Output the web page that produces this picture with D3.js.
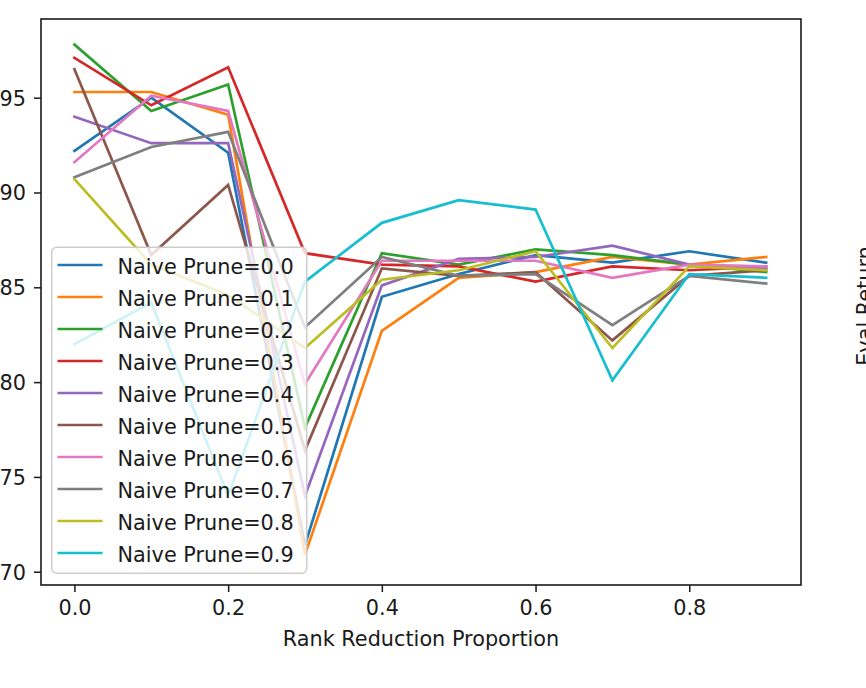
<!DOCTYPE html>
<html>
<head>
<meta charset="utf-8">
<script src="https://cdn.jsdelivr.net/npm/d3@7"></script>
<style>
  html, body { margin: 0; padding: 0; background: #fff; }
  svg { display: block; }
  text { font-family: "DejaVu Sans", sans-serif; fill: #1a1a1a; }
</style>
</head>
<body>
<svg id="chart" width="866" height="688"></svg>
<script>
// Rank reduction proportions on the x axis
const rankReduction = [0.0, 0.1, 0.2, 0.3, 0.4, 0.5, 0.6, 0.7, 0.8, 0.9];

// Naive prune levels (one line each)
const pruneLevels = ["0.0", "0.1", "0.2", "0.3", "0.4", "0.5", "0.6", "0.7", "0.8", "0.9"];

// Eval return per prune level, indexed by rank reduction
const prune00 = [92.2, 95.0, 92.1, 71.4, 84.5, 85.7, 86.7, 86.3, 86.9, 86.3];
const prune01 = [95.3, 95.3, 94.1, 70.9, 82.7, 85.5, 85.8, 86.6, 86.2, 86.6];
const prune02 = [97.8, 94.3, 95.7, 77.6, 86.8, 86.2, 87.0, 86.7, 86.2, 85.8];
const prune03 = [97.1, 94.6, 96.6, 86.8, 86.2, 86.1, 85.3, 86.1, 85.9, 86.1];
const prune04 = [94.0, 92.6, 92.6, 74.0, 85.1, 86.5, 86.6, 87.2, 86.2, 86.0];
const prune05 = [96.5, 86.7, 90.4, 76.4, 86.0, 85.6, 85.8, 82.2, 85.6, 85.9];
const prune06 = [91.6, 95.1, 94.3, 79.9, 86.4, 86.4, 86.4, 85.5, 86.2, 86.1];
const prune07 = [90.8, 92.4, 93.2, 82.9, 86.6, 85.6, 85.7, 83.0, 85.6, 85.2];
const prune08 = [90.7, 86.2, 84.6, 81.8, 85.4, 85.9, 86.9, 81.8, 86.1, 85.9];
const prune09 = [82.0, 84.2, 74.0, 85.3, 88.4, 89.6, 89.1, 80.1, 85.7, 85.5];

const seriesValues = [prune00, prune01, prune02, prune03, prune04,
                      prune05, prune06, prune07, prune08, prune09];

// Tick values
const xTicks = [0.0, 0.2, 0.4, 0.6, 0.8];
const yTicks = [70, 75, 80, 85, 90, 95];

const colors = ["#1f77b4", "#ff7f0e", "#2ca02c", "#d62728", "#9467bd",
                "#8c564b", "#e377c2", "#7f7f7f", "#bcbd22", "#17becf"];

const svg = d3.select("#chart");
const plot = { left: 41, right: 801, top: 19, bottom: 585 };
const fontSize = 20.8;

const x = d3.scaleLinear().domain([-0.0435, 0.9454]).range([plot.left, plot.right]);
const y = d3.scaleLinear().domain([69.3, 99.15]).range([plot.bottom, plot.top]);

// Lines
const line = d3.line()
  .x((d, i) => x(rankReduction[i]))
  .y(d => y(d));

const lines = svg.append("g")
  .attr("clip-path", null);

seriesValues.forEach((vals, k) => {
  lines.append("path")
    .datum(vals)
    .attr("d", line)
    .attr("fill", "none")
    .attr("stroke", colors[k])
    .attr("stroke-width", 2.7)
    .attr("stroke-linejoin", "miter")
    .attr("stroke-linecap", "square");
});

// Axes
const xAxis = svg.append("g")
  .attr("transform", `translate(0,${plot.bottom})`)
  .call(d3.axisBottom(x).tickValues(xTicks).tickFormat(d3.format(".1f"))
        .tickSize(7).tickSizeOuter(0).tickPadding(8));
const yAxis = svg.append("g")
  .attr("transform", `translate(${plot.left},0)`)
  .call(d3.axisLeft(y).tickValues(yTicks).tickFormat(d3.format("d"))
        .tickSize(7).tickSizeOuter(0).tickPadding(8));

[xAxis, yAxis].forEach(g => {
  g.select(".domain").remove();
  g.selectAll(".tick line").attr("stroke", "#1a1a1a").attr("stroke-width", 1.5);
  g.selectAll(".tick text")
    .style("font-family", '"DejaVu Sans", sans-serif')
    .style("font-size", fontSize + "px")
    .attr("fill", "#1a1a1a");
});
yAxis.selectAll(".tick text").attr("dy", "0.36em");

// Frame
svg.append("rect")
  .attr("x", plot.left).attr("y", plot.top)
  .attr("width", plot.right - plot.left).attr("height", plot.bottom - plot.top)
  .attr("fill", "none").attr("stroke", "#1a1a1a").attr("stroke-width", 1.6);

// Axis label
svg.append("text")
  .attr("x", (plot.left + plot.right) / 2)
  .attr("y", 646)
  .attr("text-anchor", "middle")
  .style("font-size", fontSize + "px")
  .text("Rank Reduction Proportion");

// Neighbouring panel's y label
svg.append("text")
  .attr("transform", "translate(872,306) rotate(-90)")
  .attr("text-anchor", "middle")
  .style("font-size", fontSize + "px")
  .text("Eval Return");

// Legend
const legend = svg.append("g");
const lg = { x: 51.7, y: 247.3, w: 255, h: 326, row: 32, first: 265 };
legend.append("rect")
  .attr("x", lg.x).attr("y", lg.y).attr("width", lg.w).attr("height", lg.h)
  .attr("rx", 5).attr("ry", 5)
  .attr("fill", "#ffffff").attr("fill-opacity", 0.8)
  .attr("stroke", "#cccccc").attr("stroke-width", 1.5);

pruneLevels.forEach((p, k) => {
  const cy = lg.first + k * lg.row;
  legend.append("line")
    .attr("x1", 57.5).attr("x2", 102.5)
    .attr("y1", cy).attr("y2", cy)
    .attr("stroke", colors[k]).attr("stroke-width", 2.7);
  legend.append("text")
    .attr("x", 117.5).attr("y", cy + 8.8)
    .style("font-size", fontSize + "px")
    .text("Naive Prune=" + p);
});
</script>
</body>
</html>
